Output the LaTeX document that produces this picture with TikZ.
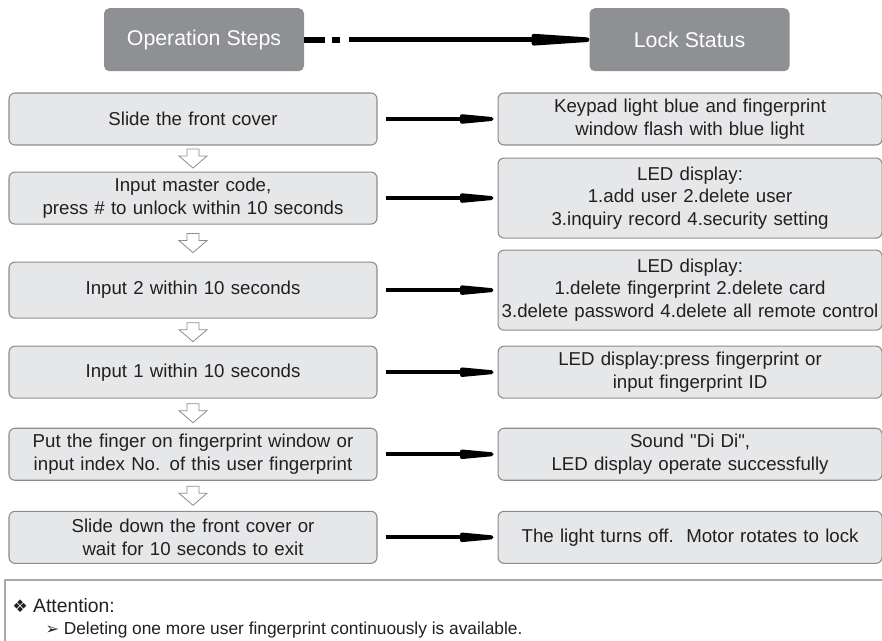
\documentclass[tikz,border=0pt]{standalone}
\usepackage{fontspec}
\setmainfont{Liberation Sans}
\newfontfamily\dingfont{DejaVu Sans}
\usepackage{tikz}
\usetikzlibrary{positioning, arrows.meta}
\definecolor{headgray}{HTML}{8E9093}
\definecolor{boxgray}{HTML}{E6E7E8}
\definecolor{linegray}{HTML}{8C8C8C}
\definecolor{inkblack}{HTML}{231F20}
\definecolor{notegray}{HTML}{A7A9AC}
\tikzstyle{headbox} = [rectangle, fill=headgray, text=white, rounded corners=4pt,
minimum width=150pt, minimum height=47.25pt, inner sep=0pt, font=\fontsize{16}{19}\selectfont]
\tikzstyle{stepbox} = [rectangle, draw=linegray, line width=0.8pt, fill=boxgray, text=inkblack,
rounded corners=4.5pt, text width=276pt, align=center, inner sep=0pt, minimum height=39pt,
font=\fontsize{14}{17}\selectfont]
\tikzstyle{statebox} = [stepbox, text width=288pt]
\tikzstyle{notebox} = [rectangle, draw=notegray, line width=1.5pt, minimum width=700pt,
minimum height=80pt, inner sep=0pt]
\tikzstyle{arrow} = [line width=3pt, -{Triangle[length=44pt, width=6.5pt, round]}, shorten <=6pt, shorten >=3pt]
\tikzstyle{headarrow} = [line width=3.5pt, -{Triangle[length=74pt, width=8pt, round]}]
\tikzstyle{dashbit} = [line width=4.5pt, dash pattern=on 15.75pt off 5.25pt on 6pt off 20pt]
\tikzstyle{hollow} = [draw=linegray, line width=0.6pt, fill=white]

\begin{document}
\begin{tikzpicture}[x=0.75pt, y=-0.75pt]
        \useasboundingbox (0,0) rectangle (882,641);
        \node (Slide) [stepbox] at (193,119) {Slide the front cover};
        \node (Master) [stepbox, below=19.5pt of Slide] {Input master code,\\ press \# to unlock within 10 seconds};
        \node (Two) [stepbox, below=27.75pt of Master, minimum height=42pt] {Input 2 within 10 seconds};
        \node (One) [stepbox, below=20.25pt of Two] {Input 1 within 10 seconds};
        \node (Finger) [stepbox, below=21.75pt of One] {Put the finger on fingerprint window or\\ input index No. of this user fingerprint};
        \node (Exit) [stepbox, below=22.5pt of Finger] {Slide down the front cover or\\ wait for 10 seconds to exit};

        \node (Ops) [headbox, above=15.75pt of Slide, xshift=8.25pt] {Operation Steps};
        \node (Status) [headbox, right=213.75pt of Ops] {Lock Status};

        \node (Light) [statebox, right=90pt of Slide] {Keypad light blue and fingerprint\\ window flash with blue light};
        \node (Menu) [statebox, right=90pt of Master, minimum height=60pt] {LED display:\\ 1.add user 2.delete user\\ 3.inquiry record 4.security setting};
        \node (Delete) [statebox, right=90pt of Two, minimum height=60pt] {LED display:\\ 1.delete fingerprint 2.delete card\\ 3.delete password 4.delete all remote control};
        \node (Press) [statebox, right=90pt of One] {LED display:press fingerprint or\\ input fingerprint ID};
        \node (Sound) [statebox, right=90pt of Finger] {Sound \textquotedbl Di Di\textquotedbl,\\ LED display operate successfully};
        \node (Lock) [statebox, right=90pt of Exit] {The light turns off.\ \ Motor rotates to lock};

        \draw [dashbit] (Ops.east) -- ([xshift=27pt]Ops.east);
        \draw [headarrow] ([xshift=33.75pt]Ops.east) -- (Status.west);
        \draw [arrow] (Slide) -- (Light);
        \draw [arrow] (Master) -- (Menu);
        \draw [arrow] (Two) -- (Delete);
        \draw [arrow] (One) -- (Press);
        \draw [arrow] (Finger) -- (Sound);
        \draw [arrow] (Exit) -- (Lock);

        \foreach \a/\b in {Slide/Master, Master/Two, Two/One, One/Finger, Finger/Exit}{
            \path (\a.south) -- coordinate[midway] (gap) (\b.north);
            \draw [hollow] (gap) +(-6,-9.5) -- +(6,-9.5) -- +(6,-2.5) -- +(14,-2.5) -- +(0,9.5) -- +(-14,-2.5) -- +(-6,-2.5) -- cycle;
        }

        \node (Note) [notebox, anchor=north west] at (4,579) {};
        \node (Attention) [anchor=west, inner sep=0pt, text=inkblack, font=\fontsize{14.5}{17}\selectfont] at ([xshift=6pt, yshift=-20.25pt]Note.north west) {{\dingfont\fontsize{13}{15}\selectfont ❖}\ Attention:};
        \node (Tip) [anchor=west, inner sep=0pt, text=inkblack, font=\fontsize{13}{15}\selectfont] at ([xshift=31pt, yshift=-38.25pt]Note.north west) {{\dingfont\fontsize{12}{14}\selectfont ➢}\ Deleting one more user fingerprint continuously is available.};
\end{tikzpicture}
\end{document}
